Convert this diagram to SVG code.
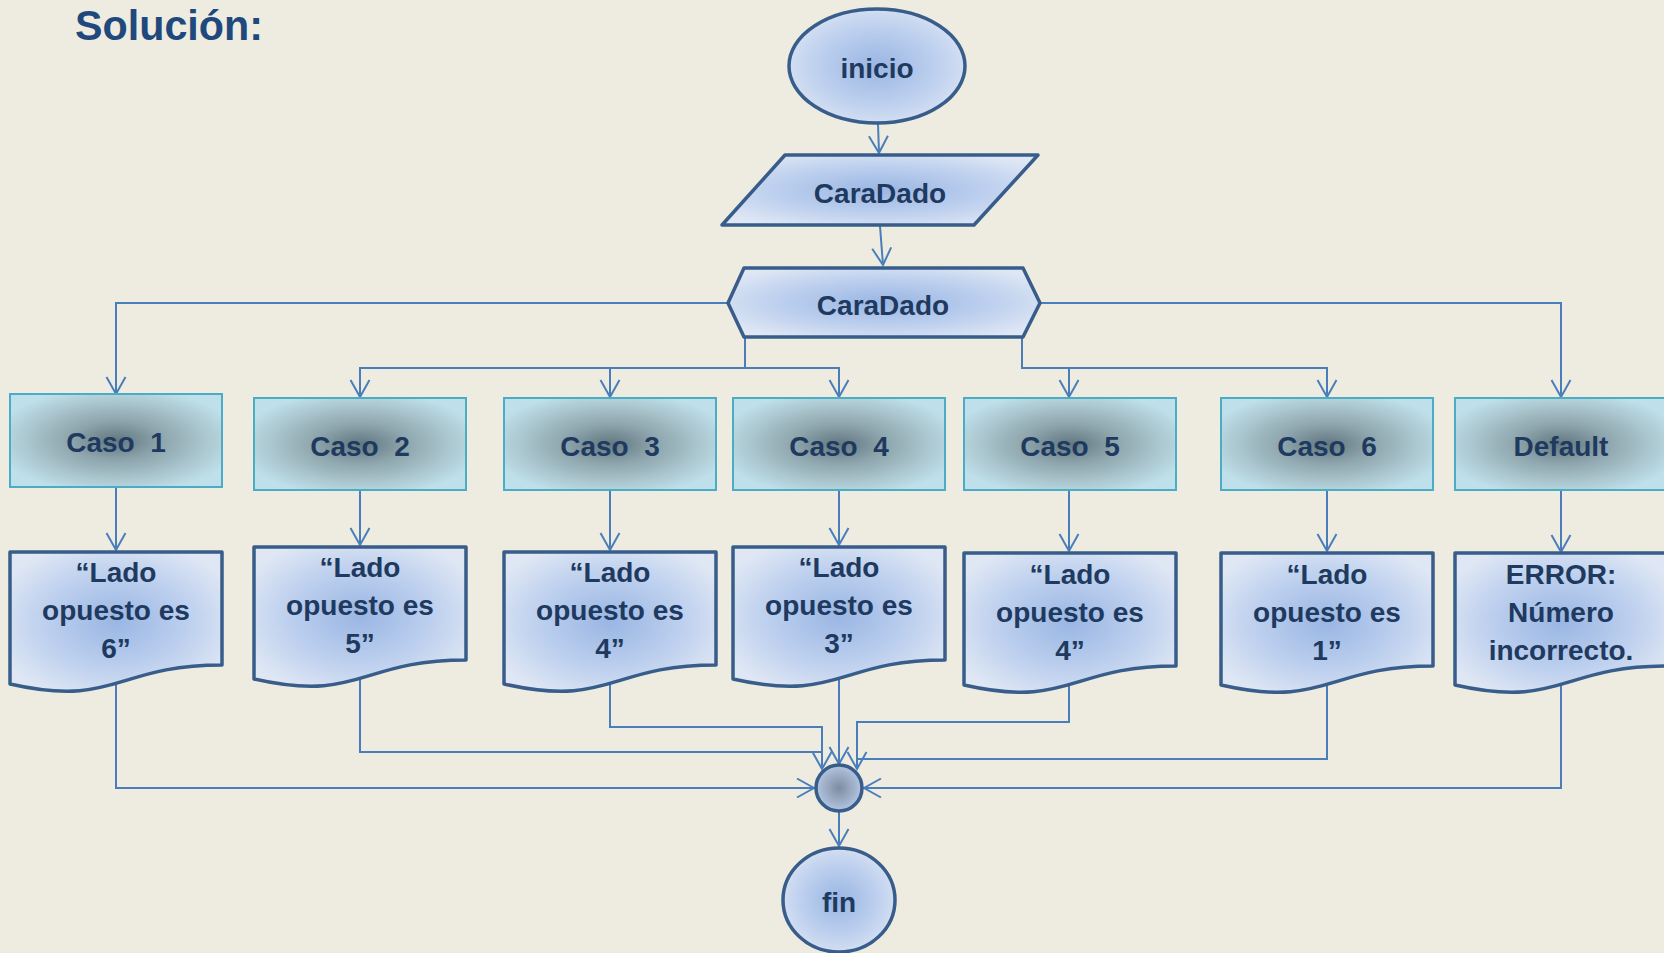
<svg xmlns="http://www.w3.org/2000/svg" width="1664" height="953" viewBox="0 0 1664 953">
<defs>
<radialGradient id="gBlue" cx="50%" cy="50%" r="60%">
<stop offset="0" stop-color="#9ab6e3"/>
<stop offset="0.55" stop-color="#bccfee"/>
<stop offset="1" stop-color="#dfe7f4"/>
</radialGradient>
<radialGradient id="gCaso" cx="50%" cy="50%" r="58%">
<stop offset="0" stop-color="#627780"/>
<stop offset="0.35" stop-color="#8ca3ab"/>
<stop offset="0.7" stop-color="#a9c4cc"/>
<stop offset="1" stop-color="#bfe0ea"/>
</radialGradient>
<radialGradient id="gJunc" cx="50%" cy="50%" r="55%">
<stop offset="0" stop-color="#7d8da2"/>
<stop offset="1" stop-color="#b8cbe6"/>
</radialGradient>
<marker id="arr" markerUnits="userSpaceOnUse" viewBox="-20 -12 24 24" markerWidth="24" markerHeight="24" refX="0" refY="0" orient="auto">
<path d="M-17,-9.5 L0,0 L-17,9.5" fill="none" stroke="#4a7ebb" stroke-width="2"/>
</marker>
</defs>
<style>
.blue{fill:url(#gBlue);stroke:#385d8a;stroke-width:3.5;stroke-linejoin:round}
.caso{fill:url(#gCaso);stroke:#4bacc6;stroke-width:2}
.t{font-family:"Liberation Sans",Arial,sans-serif;font-weight:bold;font-size:28px;fill:#203a5f;text-anchor:middle}
.c{fill:none;stroke:#4a7ebb;stroke-width:2}
.ca{fill:none;stroke:#4a7ebb;stroke-width:2;marker-end:url(#arr)}
</style>
<rect x="0" y="0" width="1664" height="953" fill="#eeece1"/>
<text x="75" y="40" font-family="Liberation Sans,Arial,sans-serif" font-weight="bold" font-size="42" fill="#1f497d" textLength="188" lengthAdjust="spacingAndGlyphs">Solución:</text>

<g id="connectors">
<path class="ca" d="M878,124 L879,153"/>
<path class="ca" d="M880,226 L883,265"/>
<path class="ca" d="M728,303 H116 V394"/>
<path class="ca" d="M1040,303 H1561 V397"/>
<path class="ca" d="M745,337 V368 H360 V397"/>
<path class="ca" d="M610,368 V397"/>
<path class="ca" d="M745,368 H839 V397"/>
<path class="ca" d="M1022,337 V368 H1327 V397"/>
<path class="ca" d="M1069,368 V397"/>
<path class="ca" d="M116,487 V550"/>
<path class="ca" d="M360,490 V545"/>
<path class="ca" d="M610,490 V550"/>
<path class="ca" d="M839,490 V545"/>
<path class="ca" d="M1069,490 V551"/>
<path class="ca" d="M1327,490 V551"/>
<path class="ca" d="M1561,490 V552"/>
<path class="ca" d="M116,684 V788 H814"/>
<path class="c" d="M360,679 V752 H822"/>
<path class="ca" d="M610,684 V727 H822 V769"/>
<path class="ca" d="M839,679 V764"/>
<path class="ca" d="M1069,685 V722 H857 V769"/>
<path class="c" d="M1327,685 V759 H857"/>
<path class="ca" d="M1561,685 V788 H864"/>
<path class="ca" d="M839,812 V846"/>
</g>

<g id="inicio">
<ellipse class="blue" cx="877" cy="66" rx="88" ry="57"/>
<text class="t" x="877" y="78">inicio</text>
</g>
<g id="entrada">
<path class="blue" d="M785,155 H1038 L974,225 H722 Z"/>
<text class="t" x="880" y="203">CaraDado</text>
</g>
<g id="switch">
<path class="blue" d="M744,268 H1023 L1040,303 L1023,337 H744 L728,303 Z"/>
<text class="t" x="883" y="315">CaraDado</text>
</g>

<g id="caso1"><rect class="caso" x="10" y="394" width="212" height="93"/><text class="t" x="116" y="452" xml:space="preserve">Caso  1</text></g>
<g id="caso2"><rect class="caso" x="254" y="398" width="212" height="92"/><text class="t" x="360" y="456" xml:space="preserve">Caso  2</text></g>
<g id="caso3"><rect class="caso" x="504" y="398" width="212" height="92"/><text class="t" x="610" y="456" xml:space="preserve">Caso  3</text></g>
<g id="caso4"><rect class="caso" x="733" y="398" width="212" height="92"/><text class="t" x="839" y="456" xml:space="preserve">Caso  4</text></g>
<g id="caso5"><rect class="caso" x="964" y="398" width="212" height="92"/><text class="t" x="1070" y="456" xml:space="preserve">Caso  5</text></g>
<g id="caso6"><rect class="caso" x="1221" y="398" width="212" height="92"/><text class="t" x="1327" y="456" xml:space="preserve">Caso  6</text></g>
<g id="default"><rect class="caso" x="1455" y="398" width="212" height="92"/><text class="t" x="1561" y="456">Default</text></g>

<g id="doc1">
<path class="blue" d="M10,552 H222 V665 C116,665 116,708 10,684 Z"/>
<text class="t" x="116" y="582">“Lado</text><text class="t" x="116" y="620">opuesto es</text><text class="t" x="116" y="658">6”</text>
</g>
<g id="doc2">
<path class="blue" d="M254,547 H466 V660 C360,660 360,703 254,679 Z"/>
<text class="t" x="360" y="577">“Lado</text><text class="t" x="360" y="615">opuesto es</text><text class="t" x="360" y="653">5”</text>
</g>
<g id="doc3">
<path class="blue" d="M504,552 H716 V665 C610,665 610,708 504,684 Z"/>
<text class="t" x="610" y="582">“Lado</text><text class="t" x="610" y="620">opuesto es</text><text class="t" x="610" y="658">4”</text>
</g>
<g id="doc4">
<path class="blue" d="M733,547 H945 V660 C839,660 839,703 733,679 Z"/>
<text class="t" x="839" y="577">“Lado</text><text class="t" x="839" y="615">opuesto es</text><text class="t" x="839" y="653">3”</text>
</g>
<g id="doc5">
<path class="blue" d="M964,553 H1176 V666 C1070,666 1070,709 964,685 Z"/>
<text class="t" x="1070" y="584">“Lado</text><text class="t" x="1070" y="622">opuesto es</text><text class="t" x="1070" y="660">4”</text>
</g>
<g id="doc6">
<path class="blue" d="M1221,553 H1433 V666 C1327,666 1327,709 1221,685 Z"/>
<text class="t" x="1327" y="584">“Lado</text><text class="t" x="1327" y="622">opuesto es</text><text class="t" x="1327" y="660">1”</text>
</g>
<g id="docDefault">
<path class="blue" d="M1455,553 H1667 V666 C1561,666 1561,709 1455,685 Z"/>
<text class="t" x="1561" y="584">ERROR:</text><text class="t" x="1561" y="622">Número</text><text class="t" x="1561" y="660">incorrecto.</text>
</g>

<g id="junction">
<circle cx="839" cy="788" r="23" fill="url(#gJunc)" stroke="#385d8a" stroke-width="3.5"/>
</g>
<g id="fin">
<ellipse class="blue" cx="839" cy="900" rx="56" ry="52"/>
<text class="t" x="839" y="912">fin</text>
</g>
</svg>
